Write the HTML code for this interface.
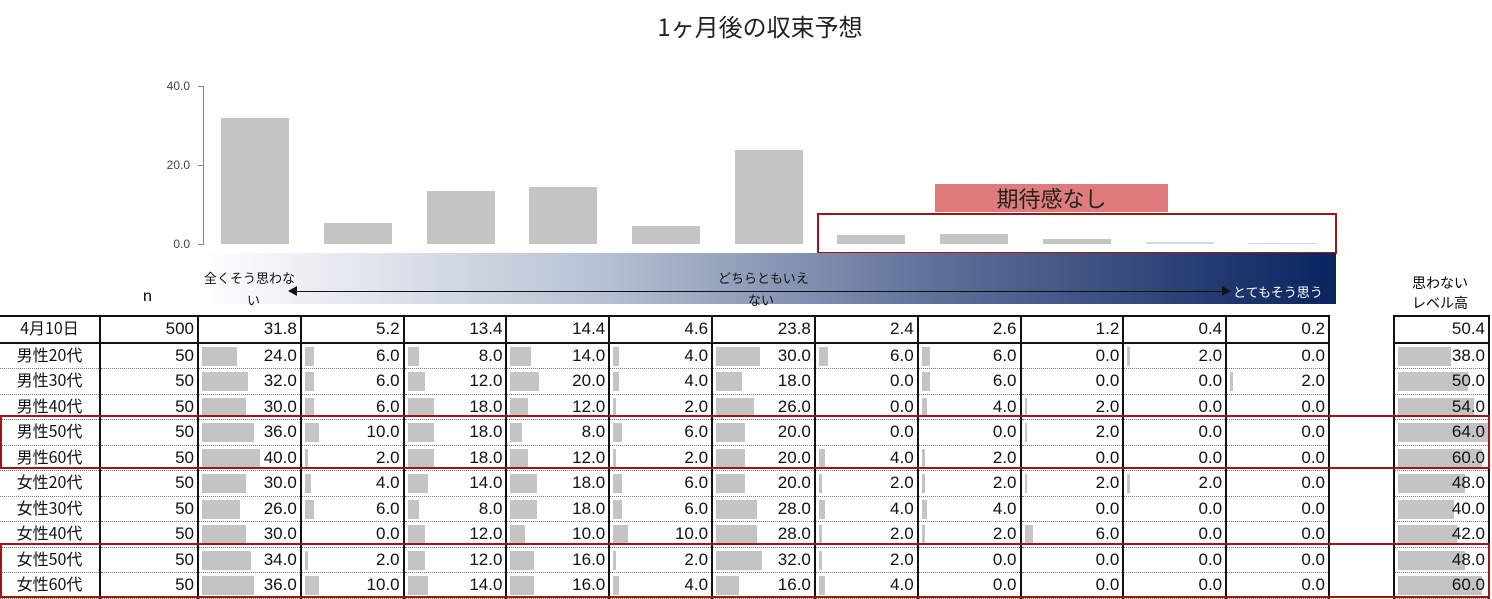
<!DOCTYPE html><html><head><meta charset="utf-8"><style>
body{margin:0;width:1492px;height:599px;background:#fff;position:relative;overflow:hidden;font-family:"Liberation Sans","Noto Sans CJK JP",sans-serif}
.a{position:absolute}
table{position:absolute;border-collapse:collapse;table-layout:fixed;font-size:17px}
td{height:24.5px;padding:0 3px 0 0;text-align:right;border-left:2px solid #111;border-right:2px solid #111;border-bottom:1px dotted #777;position:relative;line-height:24px;white-space:nowrap;color:#111;overflow:hidden}
td.l{text-align:center;font-family:"Noto Sans CJK JP",sans-serif;font-size:16px;border-left:none;padding:0}
td.l span{position:relative;top:-2px}
tr.h td{border-top:2px solid #111;border-bottom:2px solid #111}
td i{position:absolute;left:3px;top:3px;height:19px;background:#c4c4c4;width:calc(var(--v)*1.45px);z-index:-1}
#t2 td i{width:calc(var(--v)*1.4px)}
.bar{position:absolute;background:#c4c4c4;width:68px}
.yl{position:absolute;left:150px;width:40px;text-align:right;font-size:12px;color:#444}
.rb{position:absolute;border:2px solid #a01515}
.g{font-family:"Noto Sans CJK JP",sans-serif;font-size:13px;position:absolute}
</style></head><body>
<div class="a" style="left:0;width:1492px;top:8px;text-align:center;font-size:24px;font-family:'Noto Sans CJK JP',sans-serif;color:#222;padding-left:28px;box-sizing:border-box">1ヶ月後の収束予想</div>
<div class="a" style="left:203px;top:86px;width:1px;height:159px;background:#888"></div>
<div class="a" style="left:198px;top:86px;width:5px;height:1px;background:#888"></div>
<div class="a" style="left:198px;top:165px;width:5px;height:1px;background:#888"></div>
<div class="a" style="left:198px;top:244px;width:5px;height:1px;background:#888"></div>
<div class="yl" style="top:79px">40.0</div><div class="yl" style="top:158px">20.0</div><div class="yl" style="top:237px">0.0</div>
<div class="bar" style="left:221px;top:118px;height:126px"></div>
<div class="bar" style="left:324px;top:223px;height:21px"></div>
<div class="bar" style="left:427px;top:191px;height:53px"></div>
<div class="bar" style="left:529px;top:187px;height:57px"></div>
<div class="bar" style="left:632px;top:226px;height:18px"></div>
<div class="bar" style="left:735px;top:150px;height:94px"></div>
<div class="bar" style="left:837px;top:235px;height:9px"></div>
<div class="bar" style="left:940px;top:234px;height:10px"></div>
<div class="bar" style="left:1043px;top:239px;height:5px"></div>
<div class="bar" style="left:1146px;top:242px;height:2px;background:#d0d8e4"></div>
<div class="bar" style="left:1248px;top:243px;height:1px;background:#d0d8e4"></div>
<div class="a" style="left:935px;top:184px;width:233px;height:28px;background:#e07b7b;text-align:center;font-size:22px;line-height:28px;font-family:'Noto Sans CJK JP',sans-serif;color:#222">期待感なし</div>
<div class="rb" style="left:817px;top:213px;width:516px;height:37px"></div>
<div class="a" style="left:200px;top:253px;width:1136px;height:51px;background:linear-gradient(90deg,#fff 0%,#b8c2d4 35%,#5e7099 65%,#0a2460 100%)"></div>
<div class="a" style="left:295px;top:291px;width:930px;height:1px;background:#111"></div>
<div class="a" style="left:288px;top:286px;width:0;height:0;border:5px solid transparent;border-right:9px solid #111;border-left:none"></div>
<div class="a" style="left:1222px;top:286px;width:0;height:0;border:5px solid transparent;border-left:9px solid #111;border-right:none"></div>
<div class="g" style="left:204px;top:268px;color:#111">全くそう思わな</div>
<div class="g" style="left:247px;top:290px;color:#111">い</div>
<div class="g" style="left:718px;top:268px;color:#111">どちらともいえ</div>
<div class="g" style="left:748px;top:290px;color:#111">ない</div>
<div class="g" style="left:1233px;top:282px;color:#fff">とてもそう思う</div>
<div class="a" style="left:143px;top:288px;font-size:16px">n</div>
<div class="g" style="left:1412px;top:273px;font-size:14px">思わない</div>
<div class="g" style="left:1412px;top:293px;font-size:14px">レベル高</div>
<table style="left:0;top:315px;width:1330px">
<colgroup><col style="width:100px"><col style="width:98px"><col span="11"></colgroup>
<tr class="h"><td class="l"><span>4月10日</span></td><td>500</td><td>31.8</td><td>5.2</td><td>13.4</td><td>14.4</td><td>4.6</td><td>23.8</td><td>2.4</td><td>2.6</td><td>1.2</td><td>0.4</td><td>0.2</td></tr>
<tr><td class="l"><span>男性20代</span></td><td>50</td><td><i style="--v:24"></i>24.0</td><td><i style="--v:6"></i>6.0</td><td><i style="--v:8"></i>8.0</td><td><i style="--v:14"></i>14.0</td><td><i style="--v:4"></i>4.0</td><td><i style="--v:30"></i>30.0</td><td><i style="--v:6"></i>6.0</td><td><i style="--v:6"></i>6.0</td><td>0.0</td><td><i style="--v:2"></i>2.0</td><td>0.0</td></tr>
<tr><td class="l"><span>男性30代</span></td><td>50</td><td><i style="--v:32"></i>32.0</td><td><i style="--v:6"></i>6.0</td><td><i style="--v:12"></i>12.0</td><td><i style="--v:20"></i>20.0</td><td><i style="--v:4"></i>4.0</td><td><i style="--v:18"></i>18.0</td><td>0.0</td><td><i style="--v:6"></i>6.0</td><td>0.0</td><td>0.0</td><td><i style="--v:2"></i>2.0</td></tr>
<tr><td class="l"><span>男性40代</span></td><td>50</td><td><i style="--v:30"></i>30.0</td><td><i style="--v:6"></i>6.0</td><td><i style="--v:18"></i>18.0</td><td><i style="--v:12"></i>12.0</td><td><i style="--v:2"></i>2.0</td><td><i style="--v:26"></i>26.0</td><td>0.0</td><td><i style="--v:4"></i>4.0</td><td><i style="--v:2"></i>2.0</td><td>0.0</td><td>0.0</td></tr>
<tr><td class="l"><span>男性50代</span></td><td>50</td><td><i style="--v:36"></i>36.0</td><td><i style="--v:10"></i>10.0</td><td><i style="--v:18"></i>18.0</td><td><i style="--v:8"></i>8.0</td><td><i style="--v:6"></i>6.0</td><td><i style="--v:20"></i>20.0</td><td>0.0</td><td>0.0</td><td><i style="--v:2"></i>2.0</td><td>0.0</td><td>0.0</td></tr>
<tr><td class="l"><span>男性60代</span></td><td>50</td><td><i style="--v:40"></i>40.0</td><td><i style="--v:2"></i>2.0</td><td><i style="--v:18"></i>18.0</td><td><i style="--v:12"></i>12.0</td><td><i style="--v:2"></i>2.0</td><td><i style="--v:20"></i>20.0</td><td><i style="--v:4"></i>4.0</td><td><i style="--v:2"></i>2.0</td><td>0.0</td><td>0.0</td><td>0.0</td></tr>
<tr><td class="l"><span>女性20代</span></td><td>50</td><td><i style="--v:30"></i>30.0</td><td><i style="--v:4"></i>4.0</td><td><i style="--v:14"></i>14.0</td><td><i style="--v:18"></i>18.0</td><td><i style="--v:6"></i>6.0</td><td><i style="--v:20"></i>20.0</td><td><i style="--v:2"></i>2.0</td><td><i style="--v:2"></i>2.0</td><td><i style="--v:2"></i>2.0</td><td><i style="--v:2"></i>2.0</td><td>0.0</td></tr>
<tr><td class="l"><span>女性30代</span></td><td>50</td><td><i style="--v:26"></i>26.0</td><td><i style="--v:6"></i>6.0</td><td><i style="--v:8"></i>8.0</td><td><i style="--v:18"></i>18.0</td><td><i style="--v:6"></i>6.0</td><td><i style="--v:28"></i>28.0</td><td><i style="--v:4"></i>4.0</td><td><i style="--v:4"></i>4.0</td><td>0.0</td><td>0.0</td><td>0.0</td></tr>
<tr><td class="l"><span>女性40代</span></td><td>50</td><td><i style="--v:30"></i>30.0</td><td>0.0</td><td><i style="--v:12"></i>12.0</td><td><i style="--v:10"></i>10.0</td><td><i style="--v:10"></i>10.0</td><td><i style="--v:28"></i>28.0</td><td><i style="--v:2"></i>2.0</td><td><i style="--v:2"></i>2.0</td><td><i style="--v:6"></i>6.0</td><td>0.0</td><td>0.0</td></tr>
<tr><td class="l"><span>女性50代</span></td><td>50</td><td><i style="--v:34"></i>34.0</td><td><i style="--v:2"></i>2.0</td><td><i style="--v:12"></i>12.0</td><td><i style="--v:16"></i>16.0</td><td><i style="--v:2"></i>2.0</td><td><i style="--v:32"></i>32.0</td><td><i style="--v:2"></i>2.0</td><td>0.0</td><td>0.0</td><td>0.0</td><td>0.0</td></tr>
<tr><td class="l"><span>女性60代</span></td><td>50</td><td><i style="--v:36"></i>36.0</td><td><i style="--v:10"></i>10.0</td><td><i style="--v:14"></i>14.0</td><td><i style="--v:16"></i>16.0</td><td><i style="--v:4"></i>4.0</td><td><i style="--v:16"></i>16.0</td><td><i style="--v:4"></i>4.0</td><td>0.0</td><td>0.0</td><td>0.0</td><td>0.0</td></tr>
</table>
<table id="t2" style="left:1393px;top:315px;width:97px">
<tr class="h"><td>50.4</td></tr>
<tr><td><i style="--v:38"></i>38.0</td></tr>
<tr><td><i style="--v:50"></i>50.0</td></tr>
<tr><td><i style="--v:54"></i>54.0</td></tr>
<tr><td><i style="--v:64"></i>64.0</td></tr>
<tr><td><i style="--v:60"></i>60.0</td></tr>
<tr><td><i style="--v:48"></i>48.0</td></tr>
<tr><td><i style="--v:40"></i>40.0</td></tr>
<tr><td><i style="--v:42"></i>42.0</td></tr>
<tr><td><i style="--v:48"></i>48.0</td></tr>
<tr><td><i style="--v:60"></i>60.0</td></tr>
</table>
<div class="rb" style="left:0;top:415px;width:1486px;height:50px"></div>
<div class="rb" style="left:0;top:543px;width:1486px;height:51px"></div>
</body></html>
